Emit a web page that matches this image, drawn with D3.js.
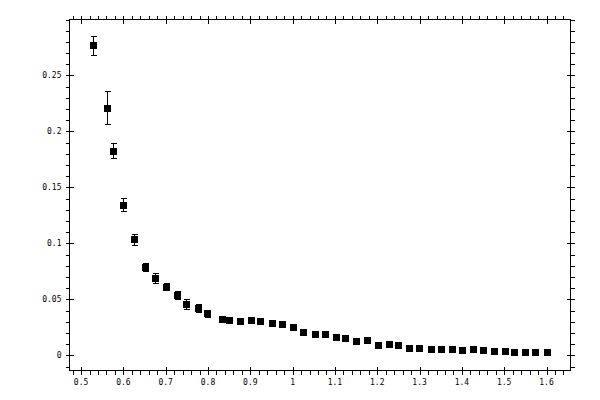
<!DOCTYPE html>
<html lang="en">
<head>
<meta charset="UTF-8">
<script src="https://d3js.org/d3.v7.min.js"></script>
<title>Chart</title>
<style>
  body { margin: 0; background: #fff; }
  svg { display: block; }
  .axis line, .frame, .err line { stroke: #000; stroke-width: 1; shape-rendering: crispEdges; }
  .lbl { font-family: "DejaVu Sans Mono", monospace; font-size: 8px; fill: #000; }
</style>
</head>
<body>
<svg id="s1" width="600" height="400"></svg>
<script>
// data
const xValues = [0.527, 0.561, 0.575, 0.600, 0.624, 0.650, 0.674, 0.700, 0.727, 0.748, 0.776, 0.798,
  0.832, 0.849, 0.875, 0.901, 0.922, 0.951, 0.974, 1.001, 1.025, 1.052, 1.076, 1.102, 1.123, 1.149,
  1.175, 1.201, 1.227, 1.248, 1.275, 1.298, 1.326, 1.350, 1.376, 1.400, 1.426, 1.450, 1.476, 1.501,
  1.522, 1.550, 1.572, 1.600];
const yValues = [0.2768, 0.2214, 0.1830, 0.1348, 0.1036, 0.0788, 0.0696, 0.0616, 0.0538, 0.0461, 0.0423, 0.0375,
  0.0330, 0.0321, 0.0304, 0.0321, 0.0304, 0.0286, 0.0277, 0.0250, 0.0214, 0.0188, 0.0196, 0.0161, 0.0152, 0.0125,
  0.0134, 0.0098, 0.0107, 0.0098, 0.0071, 0.0071, 0.0062, 0.0062, 0.0054, 0.0045, 0.0054, 0.0045, 0.0036, 0.0036,
  0.0027, 0.0027, 0.0027, 0.0027];
const yErrors = [0.0089, 0.0147, 0.0063, 0.0054, 0.0045, 0.0035, 0.0045, 0.0035, 0.0035, 0.0045, 0.0035, 0.0035,
  0.002, 0.002, 0.002, 0.002, 0.002, 0.002, 0.002, 0.002, 0.002, 0.002, 0.002, 0.002, 0.002, 0.002,
  0.002, 0.002, 0.002, 0.002, 0.002, 0.002, 0.002, 0.002, 0.002, 0.002, 0.002, 0.002, 0.002, 0.002,
  0.002, 0.002, 0.002, 0.002];
const xMajor = [0.5, 0.6, 0.7, 0.8, 0.9, 1, 1.1, 1.2, 1.3, 1.4, 1.5, 1.6];
const xLabels = ["0.5", "0.6", "0.7", "0.8", "0.9", "1", "1.1", "1.2", "1.3", "1.4", "1.5", "1.6"];
const yMajor = [0, 0.05, 0.1, 0.15, 0.2, 0.25];
const yLabels = ["0", "0.05", "0.1", "0.15", "0.2", "0.25"];

const svg = d3.select("svg#s1");
const plotLeft = 69.5, plotRight = 570.5, plotTop = 19.5, plotBottom = 370.5;

const xScale = d3.scaleLinear().domain([0.4726, 1.6567]).range([plotLeft, plotRight]);
const yScale = d3.scaleLinear().domain([-0.0134, 0.3]).range([plotBottom, plotTop]);

// minor ticks every 0.02 / 0.01
const xMinor = d3.range(24, 83).map(i => i * 0.02);
const yMinor = d3.range(-1, 31).map(i => i * 0.01);

const px = v => Math.round(xScale(v)) + 0.5;
const py = v => Math.round(yScale(v)) + 0.5;

let axes = svg.append("g").attr("class", "axis");

// bottom + top
axes.selectAll("line.xm").data(xMinor).join("line")
  .attr("x1", px).attr("x2", px).attr("y1", plotBottom).attr("y2", plotBottom + 4);
axes.selectAll("line.xmt").data(xMinor).join("line")
  .attr("x1", px).attr("x2", px).attr("y1", plotTop).attr("y2", plotTop - 4);
axes.selectAll("line.xM").data(xMajor).join("line")
  .attr("x1", px).attr("x2", px).attr("y1", plotBottom - 4).attr("y2", plotBottom + 4);
axes.selectAll("line.xMt").data(xMajor).join("line")
  .attr("x1", px).attr("x2", px).attr("y1", plotTop - 4).attr("y2", plotTop + 4);

// left + right
axes.selectAll("line.ym").data(yMinor).join("line")
  .attr("y1", py).attr("y2", py).attr("x1", plotLeft - 4).attr("x2", plotLeft);
axes.selectAll("line.ymr").data(yMinor).join("line")
  .attr("y1", py).attr("y2", py).attr("x1", plotRight).attr("x2", plotRight + 4);
axes.selectAll("line.yM").data(yMajor).join("line")
  .attr("y1", py).attr("y2", py).attr("x1", plotLeft - 4).attr("x2", plotLeft + 4);
axes.selectAll("line.yMr").data(yMajor).join("line")
  .attr("y1", py).attr("y2", py).attr("x1", plotRight - 4).attr("x2", plotRight + 4);

svg.append("rect").attr("class", "frame")
  .attr("x", plotLeft).attr("y", plotTop)
  .attr("width", plotRight - plotLeft).attr("height", plotBottom - plotTop)
  .attr("fill", "none");

// labels
svg.selectAll("text.xl").data(xMajor).join("text")
  .attr("class", "lbl")
  .attr("x", d => xScale(d)).attr("y", plotBottom + 14)
  .attr("text-anchor", "middle")
  .text((d, i) => xLabels[i]);
svg.selectAll("text.yl").data(yMajor).join("text")
  .attr("class", "lbl")
  .attr("x", plotLeft - 8).attr("y", d => yScale(d) + 3)
  .attr("text-anchor", "end")
  .text((d, i) => yLabels[i]);

// error bars
let err = svg.append("g").attr("class", "err");
xValues.forEach((xv, i) => {
  const cx = px(xv);
  const y1 = py(yValues[i] + yErrors[i]), y2 = py(yValues[i] - yErrors[i]);
  err.append("line").attr("x1", cx).attr("x2", cx).attr("y1", y1).attr("y2", y2);
  err.append("line").attr("x1", cx - 3).attr("x2", cx + 3).attr("y1", y1).attr("y2", y1);
  err.append("line").attr("x1", cx - 3).attr("x2", cx + 3).attr("y1", y2).attr("y2", y2);
});

// points
svg.append("g").selectAll("rect").data(xValues).join("rect")
  .attr("x", d => Math.round(xScale(d)) - 3)
  .attr("y", (d, i) => Math.round(yScale(yValues[i])) - 3)
  .attr("width", 7).attr("height", 7)
  .attr("fill", "#000")
  .attr("shape-rendering", "crispEdges");
</script>
</body>
</html>
